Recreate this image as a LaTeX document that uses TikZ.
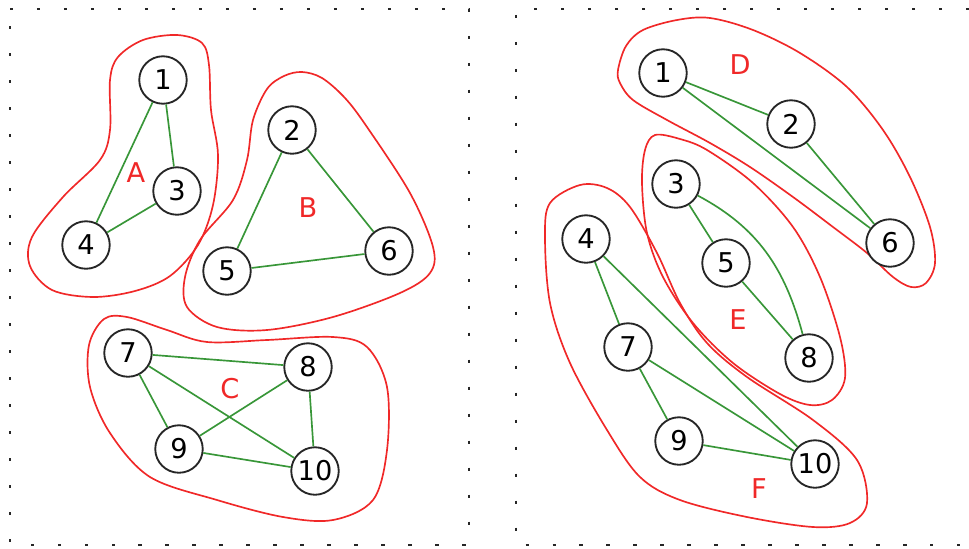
\documentclass[tikz,border=0pt]{standalone}
\usepackage{fontspec}
\setmainfont{DejaVu Sans}
\usetikzlibrary{backgrounds}
\definecolor{edgegreen}{RGB}{56,150,56}
\definecolor{clusterred}{RGB}{240,40,40}
\begin{document}
\begin{tikzpicture}[
    x=0.02cm, y=-0.02cm,
    font=\fontsize{15.5}{18}\selectfont,
    vertex/.style={circle, draw=black!85, line width=1.05pt, fill=white,
                   minimum size=0.95cm, inner sep=0pt},
    link/.style={draw=edgegreen, line width=0.95pt},
    cluster/.style={draw=clusterred, line width=0.95pt, tension=0.55},
    tag/.style={text=clusterred, inner sep=0pt},
    frame/.style={draw=black!85, line width=1.4pt, dash pattern=on 1.8pt off 13.56pt}
]
\useasboundingbox (0,0) rectangle (969,548);

% Dotted panel frames
\draw[frame] (10,9) -- (469,9) -- (469,545) -- (10,545) -- cycle;
\draw[frame] (969,9) -- (516,9) -- (516,545) -- (969,545);

% Left panel: vertices
\node[vertex] (l1) at (163,80) {1};
\node[vertex] (l2) at (292,130) {2};
\node[vertex] (l3) at (177,191) {3};
\node[vertex] (l4) at (86,245) {4};
\node[vertex] (l5) at (227,271) {5};
\node[vertex] (l6) at (389,251) {6};
\node[vertex] (l7) at (128,353) {7};
\node[vertex] (l8) at (308,367) {8};
\node[vertex] (l9) at (179,449) {9};
\node[vertex] (l10) at (315,471) {10};
\node[tag] (tagA) at (136,173) {A};
\node[tag] (tagB) at (308,208) {B};
\node[tag] (tagC) at (230,389) {C};

% Right panel: vertices
\node[vertex] (r1) at (663,73) {1};
\node[vertex] (r2) at (791,124) {2};
\node[vertex] (r3) at (676,184) {3};
\node[vertex] (r4) at (586,239) {4};
\node[vertex] (r5) at (726,263) {5};
\node[vertex] (r6) at (890,243) {6};
\node[vertex] (r7) at (628,347) {7};
\node[vertex] (r8) at (809,358) {8};
\node[vertex] (r9) at (679,441) {9};
\node[vertex] (r10) at (815,464) {10};
\node[tag] (tagD) at (740,65) {D};
\node[tag] (tagE) at (738,320) {E};
\node[tag] (tagF) at (759,489) {F};

% Left panel: edges
\draw[link] (l1) -- (l3);
\draw[link] (l1) -- (l4);
\draw[link] (l3) -- (l4);
\draw[link] (l2) -- (l5);
\draw[link] (l2) -- (l6);
\draw[link] (l5) -- (l6);
\draw[link] (l7) -- (l8);
\draw[link] (l7) -- (l9);
\draw[link] (l7) -- (l10);
\draw[link] (l8) -- (l9);
\draw[link] (l8) -- (l10);
\draw[link] (l9) -- (l10);

% Right panel: edges
\draw[link] (r1) -- (r2);
\draw[link] (r1) -- (r6);
\draw[link] (r2) -- (r6);
\draw[link] (r3) -- (r5);
\draw[link] (r3) to[out=-28, in=105] (r8);
\draw[link] (r5) -- (r8);
\draw[link] (r4) -- (r7);
\draw[link] (r4) -- (r10);
\draw[link] (r7) -- (r9);
\draw[link] (r7) -- (r10);
\draw[link] (r9) -- (r10);

% Cluster outlines behind the vertices
\begin{scope}[on background layer]
  % A
  \draw[cluster] plot[smooth cycle] coordinates {(110,80) (118,57) (143,40) (177,35)
    (202,43) (209,65) (211,110) (218,155) (213,205) (198,245) (170,276) (135,291)
    (93,297) (52,290) (30,266) (32,237) (63,197) (100,160) (110,130)};
  % B
  \draw[cluster] plot[smooth cycle] coordinates {(284,76) (302,72) (322,78) (345,98)
    (367,127) (410,193) (433,247) (430,273) (400,293) (333,317) (267,330) (217,327)
    (187,307) (185,277) (200,240) (233,200) (247,160) (253,120) (267,89)};
  % C
  \draw[cluster] plot[smooth cycle] coordinates {(104,319) (127,317) (167,330) (207,342)
    (267,340) (333,337) (367,347) (387,387) (387,450) (373,500) (333,520) (283,517)
    (217,500) (150,477) (110,433) (90,387) (89,345)};
  % D
  \draw[cluster] plot[smooth cycle] coordinates {(618,70) (626,46) (643,30) (677,20)
    (710,18) (753,30) (800,53) (847,87) (883,130) (910,177) (930,227) (935,263)
    (926,283) (911,287) (893,277) (867,253) (833,227) (793,197) (750,167) (710,143)
    (667,120) (633,100) (620,83)};
  % E
  \draw[cluster] plot[smooth cycle] coordinates {(655,135) (680,139) (707,150)
    (753,183) (793,227) (820,277) (840,337) (845,378) (832,400) (810,405) (780,394)
    (733,363) (693,323) (663,277) (647,233) (642,183) (645,150)};
  % F
  \draw[cluster] plot[smooth cycle] coordinates {(550,203) (580,185) (607,188) (630,207)
    (657,253) (680,303) (707,343) (747,377) (813,420) (857,460) (867,503) (850,523)
    (813,527) (747,517) (680,500) (640,477) (607,430) (570,363) (550,303) (545,237)};
\end{scope}
\end{tikzpicture}
\end{document}
